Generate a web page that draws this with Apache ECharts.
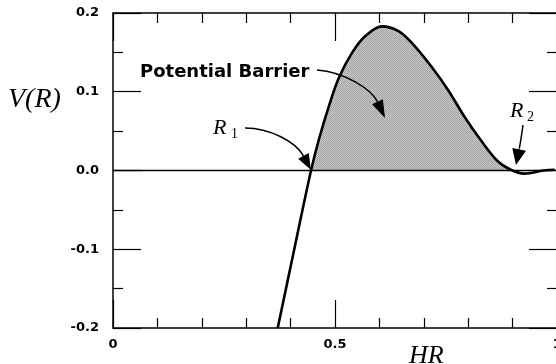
<!DOCTYPE html>
<html>
<head>
<meta charset="utf-8">
<script src="https://cdn.jsdelivr.net/npm/echarts@6/dist/echarts.min.js"></script>
<style>
  html, body { margin: 0; padding: 0; background: #fff; }
  #chart { width: 556px; height: 364px; }
</style>
</head>
<body>
<div id="chart"></div>
<script>
// HR positions and V(R) values
const hr = [0.371, 0.409, 0.446, 0.464, 0.487, 0.509, 0.539, 0.569, 0.606, 0.643,
  0.673, 0.717, 0.755, 0.792, 0.829, 0.866, 0.896, 0.926, 0.970, 0.995]
const potential = [-0.200, -0.098, 0.000, 0.040, 0.083, 0.118, 0.150, 0.171, 0.183, 0.177,
  0.162, 0.132, 0.102, 0.068, 0.038, 0.012, 0.001, -0.004, 0.000, 0.001]

// shaded barrier: from R1 (index 2) to R2 (index 16)
const barrierFrom = 2
const barrierTo = 16

const xTickLabels = ['0', '0.5', '1']
const yTickLabels = ['-0.2', '-0.1', '0.0', '0.1', '0.2']

const INK = '#000'
const LABEL_FONT = 'DejaVu Sans, sans-serif'
const MATH_FONT = 'Liberation Serif, serif'

const chart = echarts.init(document.getElementById('chart'), null, { renderer: 'canvas' })

// fine dot screen for the barrier area
function stipple() {
  const c = document.createElement('canvas')
  c.width = 2
  c.height = 2
  const ctx = c.getContext('2d')
  ctx.fillStyle = '#c9c9c9'
  ctx.fillRect(0, 0, 2, 2)
  ctx.fillStyle = '#a2a2a2'
  ctx.fillRect(0, 0, 1, 1)
  ctx.fillRect(1, 1, 1, 1)
  return c
}

function makeAxis(kind, position, labels) {
  const isX = kind === 'x'
  return {
    type: 'value',
    position,
    min: isX ? 0 : -0.2,
    max: isX ? 1 : 0.2,
    interval: isX ? 0.5 : 0.1,
    axisLine: { show: true, onZero: false, lineStyle: { color: INK, width: 1.5 } },
    axisTick: { show: true, inside: true, length: 28, lineStyle: { color: INK, width: 1.2 } },
    minorTick: { show: true, splitNumber: isX ? 5 : 2, length: 10, lineStyle: { color: INK, width: 1.2 } },
    splitLine: { show: false },
    axisLabel: {
      show: !!labels,
      color: INK,
      fontFamily: LABEL_FONT,
      fontWeight: 'bold',
      fontSize: 13,
      margin: isX ? 10 : 14,
      formatter: (value, index) => (labels ? labels[index] : ''),
    },
  }
}

const curve = hr.map((x, i) => [x, potential[i]])
const barrier = curve.slice(barrierFrom, barrierTo + 1)

chart.setOption({
  animation: false,
  backgroundColor: '#fff',
  grid: { left: 113, right: -1, top: 13, bottom: 36, containLabel: false, outerBoundsMode: 'none' },
  xAxis: [makeAxis('x', 'bottom', xTickLabels), makeAxis('x', 'top', null)],
  yAxis: [makeAxis('y', 'left', yTickLabels), makeAxis('y', 'right', null)],
  series: [
    {
      type: 'line',
      data: barrier,
      smooth: 0.35,
      symbol: 'none',
      lineStyle: { width: 0 },
      areaStyle: { origin: 0, opacity: 1, color: { image: stipple(), repeat: 'repeat' } },
      silent: true,
      z: 1,
    },
    {
      type: 'line',
      data: curve,
      smooth: 0.35,
      symbol: 'none',
      lineStyle: { color: INK, width: 2.6 },
      silent: true,
      z: 3,
      markLine: {
        silent: true,
        symbol: 'none',
        label: { show: false },
        lineStyle: { color: INK, width: 1.3, type: 'solid' },
        data: [{ yAxis: 0 }],
      },
    },
  ],
})

// annotation arrows (pixel space)
function arrow(p0, c1, c2, tip, len, half) {
  const dx = tip[0] - c2[0]
  const dy = tip[1] - c2[1]
  const n = Math.hypot(dx, dy)
  const ux = dx / n
  const uy = dy / n
  const bx = tip[0] - ux * len
  const by = tip[1] - uy * len
  return [
    {
      type: 'bezierCurve',
      shape: { x1: p0[0], y1: p0[1], cpx1: c1[0], cpy1: c1[1], cpx2: c2[0], cpy2: c2[1], x2: bx, y2: by },
      style: { stroke: INK, lineWidth: 1.5, fill: null },
      z: 10,
    },
    {
      type: 'polygon',
      shape: { points: [tip, [bx - uy * half, by + ux * half], [bx + uy * half, by - ux * half]] },
      style: { fill: INK },
      z: 10,
    },
  ]
}

function mathText(str, x, y, size, italic) {
  return {
    type: 'text',
    x,
    y,
    z: 10,
    style: {
      text: str,
      fill: INK,
      font: `${italic ? 'italic ' : ''}${size}px ${MATH_FONT}`,
      verticalAlign: 'middle',
    },
  }
}

chart.setOption({
  graphic: [
    mathText('V(R)', 8, 100, 28, true),
    mathText('HR', 409, 356, 26, true),
    mathText('R', 213, 128, 22, true),
    mathText('1', 231, 134, 14, false),
    mathText('R', 510, 111, 22, true),
    mathText('2', 527, 117, 14, false),
    {
      type: 'text',
      x: 140,
      y: 72,
      z: 10,
      style: { text: 'Potential Barrier', fill: INK, font: `bold 18px ${LABEL_FONT}`, verticalAlign: 'middle' },
    },
    ...arrow([317, 70], [345, 72], [372, 90], [385, 118], 18, 6),
    ...arrow([245, 128], [270, 128], [296, 142], [311, 170], 16, 6),
    ...arrow([523, 125], [521, 140], [519, 150], [516, 165], 16, 7),
  ],
})
</script>
</body>
</html>
